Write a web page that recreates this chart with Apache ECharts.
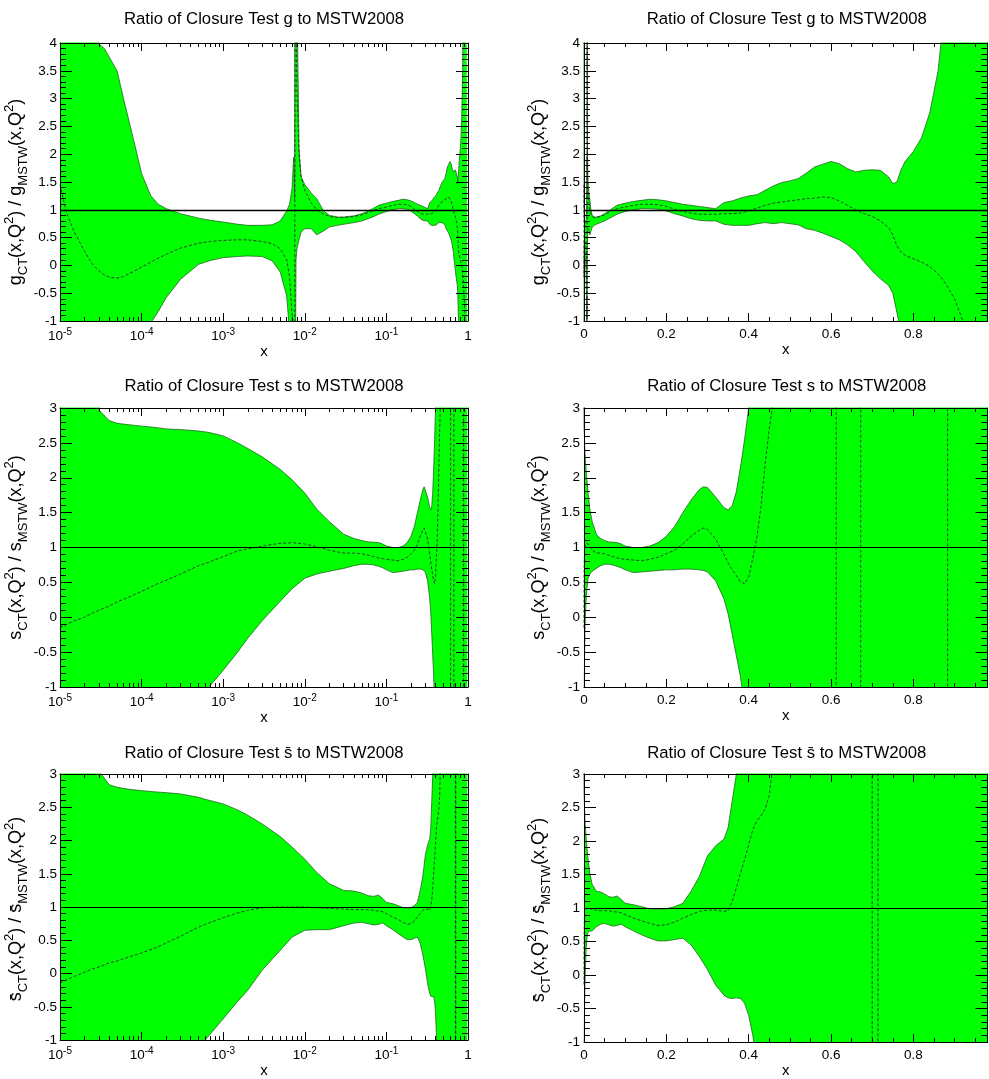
<!DOCTYPE html>
<html>
<head>
<meta charset="utf-8">
<script src="https://cdn.jsdelivr.net/npm/echarts@6/dist/echarts.min.js"></script>
<style>
html,body{margin:0;padding:0;background:#fff;}
#chart{width:989px;height:1079px;}
</style>
</head>
<body>
<div id="chart"></div>
<script>
// ---------------- data ----------------
const TITLES = [
  'Ratio of Closure Test g to MSTW2008',
  'Ratio of Closure Test s to MSTW2008',
  'Ratio of Closure Test s\u0304 to MSTW2008'
];
const Y_NAMES = [
  '{m|g}{sub|CT}{m|(x,Q}{sup|2}{m|) / g}{sub|MSTW}{m|(x,Q}{sup|2}{m|)}',
  '{m|s}{sub|CT}{m|(x,Q}{sup|2}{m|) / s}{sub|MSTW}{m|(x,Q}{sup|2}{m|)}',
  '{m|s\u0304}{sub|CT}{m|(x,Q}{sup|2}{m|) / s\u0304}{sub|MSTW}{m|(x,Q}{sup|2}{m|)}'
];
const Y_RANGES = [[-1, 4], [-1, 3], [-1, 3]];
const REF_VALUE = 1;
const LOG_RANGE = [1e-5, 1];
const LIN_RANGE = [0, 0.98];
const LIN_LABELS = [0, 0.2, 0.4, 0.6, 0.8];

// gluon
const G_X = [1e-5,1.2e-5,1.5e-5,2e-5,2.5e-5,3e-5,3.5e-5,4e-5,5e-5,6e-5,7e-5,8e-5,1e-4,1.3e-4,1.6e-4,2e-4,3e-4,5e-4,7e-4,1e-3,1.5e-3,2e-3,3e-3,4e-3,5e-3,6e-3,6.5e-3,7e-3,7.3e-3,7.5e-3,7.6e-3,7.8e-3,8e-3,8.5e-3,9e-3,0.01,0.012,0.014,0.017,0.02,0.025,0.03,0.04,0.05,0.06,0.07,0.08,0.1,
  0.12,0.14,0.16,0.18,0.2,0.22,0.24,0.26,0.28,0.30,0.32,0.34,0.36,0.38,0.40,0.42,0.44,0.46,0.48,0.50,0.52,0.54,0.56,0.58,0.60,0.62,0.64,0.66,0.68,0.70,0.72,0.74,0.75,0.76,0.77,0.78,0.80,0.82,0.84,0.86,0.87,0.88,0.90,0.92,0.94,0.96,0.98];
const G_HI = [6,6,6,6,4.6,3.98,3.9,3.75,3.5,3.0,2.6,2.25,1.65,1.25,1.1,1.02,0.93,0.85,0.81,0.78,0.74,0.72,0.72,0.73,0.8,0.98,1.1,1.4,1.95,1.2,6,6,5,2.1,1.6,1.45,1.3,1.2,0.98,0.9,0.87,0.87,0.89,0.93,0.98,1.03,1.08,1.12,
  1.15,1.17,1.19,1.18,1.16,1.13,1.10,1.08,1.06,1.04,1.02,1.13,1.16,1.21,1.25,1.27,1.35,1.43,1.49,1.52,1.56,1.66,1.77,1.82,1.87,1.83,1.74,1.68,1.71,1.72,1.71,1.59,1.47,1.5,1.72,1.87,2.05,2.3,2.75,3.5,4.2,5,6,6,6,6,6];
const G_LO = [-3.9,-3.7,-3.45,-3.15,-2.9,-2.7,-2.5,-2.4,-2.15,-1.95,-1.75,-1.6,-1.33,-1.03,-0.83,-0.58,-0.25,0.02,0.09,0.14,0.16,0.17,0.16,0.08,-0.12,-0.55,-1.2,-5,-5,-5,-3,0.1,0.3,0.46,0.6,0.66,0.66,0.55,0.62,0.69,0.72,0.74,0.77,0.8,0.84,0.88,0.92,0.97,
  1.0,1.02,1.02,1.01,0.98,0.93,0.89,0.84,0.81,0.80,0.80,0.74,0.72,0.72,0.72,0.75,0.77,0.75,0.77,0.75,0.73,0.66,0.63,0.58,0.52,0.46,0.37,0.25,0.07,-0.1,-0.24,-0.36,-0.5,-0.85,-1.2,-1.6,-2.5,-4,-4,-4,-4,-4,-4,-4,-4,-4,-4];
const G_C = [1.45,0.95,0.6,0.25,0.02,-0.1,-0.17,-0.21,-0.23,-0.2,-0.15,-0.11,-0.03,0.06,0.13,0.2,0.31,0.4,0.43,0.45,0.46,0.46,0.43,0.39,0.3,0.1,-0.2,-0.9,-2.5,-12,12,4.5,3.2,2.0,1.6,1.35,1.12,1.0,0.92,0.88,0.86,0.86,0.88,0.91,0.95,0.99,1.02,1.05,
  1.08,1.1,1.1,1.09,1.06,1.01,0.97,0.94,0.92,0.92,0.92,0.93,0.93,0.94,0.98,1.03,1.08,1.12,1.14,1.16,1.18,1.2,1.21,1.23,1.22,1.16,1.08,1.0,0.93,0.88,0.8,0.68,0.55,0.35,0.24,0.18,0.12,0.06,-0.02,-0.15,-0.24,-0.35,-0.6,-1.0,-1.5,-2.0,-2.5];

// strange
const S_X = [1e-5,1.5e-5,2e-5,2.5e-5,3e-5,4e-5,5e-5,7e-5,1e-4,1.5e-4,2e-4,3e-4,5e-4,6.7e-4,1e-3,1.5e-3,2e-3,3e-3,5e-3,7e-3,0.01,0.014,0.02,0.03,0.04,0.05,0.06,0.07,0.08,0.09,0.1,
  0.12,0.14,0.16,0.18,0.2,0.22,0.24,0.26,0.28,0.29,0.30,0.32,0.34,0.35,0.36,0.37,0.38,0.39,0.40,0.41,0.42,0.43,0.44,0.45,0.46,0.5,0.55,0.6,0.612,0.613,0.64,0.671,0.673,0.7,0.75,0.8,0.85,0.882,0.884,0.92,0.96,0.98];
const S_HI = [5,5,5,4,2.97,2.82,2.78,2.76,2.74,2.72,2.70,2.69,2.67,2.65,2.60,2.50,2.42,2.30,2.12,1.97,1.78,1.55,1.37,1.19,1.13,1.10,1.08,1.075,1.07,1.05,1.02,
  1.0,1.0,1.02,1.07,1.16,1.3,1.5,1.68,1.83,1.87,1.86,1.72,1.57,1.54,1.6,1.8,2.15,2.55,3.0,3.5,4,5,5,5,5,5,5,5,5,5,5,5,5,5,5,5,5,5,5,5,5,5];
const S_LO = [-3.6,-3.35,-3.2,-3.05,-2.95,-2.75,-2.6,-2.4,-2.2,-1.95,-1.75,-1.5,-1.18,-1.0,-0.76,-0.5,-0.3,-0.05,0.23,0.41,0.56,0.62,0.66,0.70,0.74,0.76,0.76,0.75,0.73,0.71,0.68,
  0.64,0.65,0.66,0.67,0.68,0.68,0.69,0.69,0.68,0.67,0.65,0.52,0.26,0.05,-0.25,-0.55,-0.85,-1.3,-2,-3,-3,-3,-3,-3,-3,-3,-3,-3,-3,-3,-3,-3,-3,-3,-3,-3,-3,-3,-3,-3,-3,-3];
const S_C = [-0.15,-0.05,0.0,0.06,0.10,0.16,0.22,0.29,0.37,0.47,0.53,0.62,0.74,0.79,0.87,0.95,0.98,1.02,1.06,1.07,1.05,1.01,0.96,0.92,0.92,0.91,0.89,0.87,0.85,0.84,0.83,
  0.82,0.81,0.83,0.86,0.91,0.96,1.05,1.16,1.25,1.28,1.26,1.12,0.9,0.78,0.68,0.6,0.51,0.48,0.58,0.85,1.15,1.6,2.2,2.7,3.1,5,7,12,40,-40,-10,-40,40,12,8,9,14,40,-40,-12,-8,-7];

// anti-strange
const SB_X = [1e-5,1.5e-5,2e-5,2.5e-5,3e-5,4e-5,5e-5,7e-5,1e-4,1.5e-4,2e-4,3e-4,5e-4,6e-4,1e-3,1.5e-3,2e-3,3e-3,5e-3,7e-3,0.01,0.014,0.02,0.03,0.04,0.05,0.06,0.07,0.08,0.09,0.1,
  0.12,0.14,0.16,0.18,0.2,0.22,0.24,0.26,0.28,0.30,0.32,0.34,0.35,0.36,0.37,0.38,0.39,0.40,0.41,0.42,0.43,0.44,0.45,0.46,0.5,0.6,0.699,0.701,0.713,0.715,0.8,0.9,0.98];
const SB_HI = [5,5,5,4,3.05,2.84,2.80,2.77,2.75,2.73,2.72,2.70,2.65,2.62,2.55,2.46,2.38,2.25,2.06,1.9,1.72,1.52,1.35,1.25,1.24,1.21,1.17,1.16,1.18,1.13,1.07,
  1.05,1.02,0.99,0.98,0.99,1.02,1.07,1.25,1.47,1.78,1.93,2.03,2.2,2.6,3.0,3.6,5,5,5,5,5,5,5,5,5,5,5,5,5,5,5,5,5];
const SB_LO = [-3.5,-3.25,-3.1,-2.95,-2.85,-2.65,-2.5,-2.3,-2.1,-1.85,-1.7,-1.45,-1.13,-1.0,-0.68,-0.42,-0.25,0.05,0.35,0.55,0.65,0.66,0.66,0.72,0.76,0.77,0.75,0.73,0.74,0.76,0.72,
  0.66,0.6,0.55,0.51,0.51,0.53,0.55,0.45,0.28,0.08,-0.15,-0.3,-0.34,-0.35,-0.34,-0.35,-0.42,-0.6,-0.9,-1.3,-3,-3,-3,-3,-3,-3,-3,-3,-3,-3,-3,-3,-3];
const SB_C = [-0.14,-0.04,0.02,0.07,0.1,0.16,0.19,0.25,0.31,0.39,0.46,0.56,0.70,0.74,0.84,0.91,0.95,0.99,1.0,1.0,1.0,0.99,0.98,0.97,0.96,0.96,0.96,0.95,0.94,0.93,0.9,
  0.85,0.81,0.77,0.74,0.75,0.79,0.85,0.9,0.95,0.97,0.97,0.95,0.96,1.1,1.3,1.52,1.72,1.95,2.17,2.3,2.38,2.48,2.68,3.2,5,10,40,-40,-40,40,12,8,7];

// ---------------- layout / style ----------------
const FONT = '"Liberation Sans", Arial, Helvetica, sans-serif';
const GREEN = '#00ff00';
const EDGE = '#1d6a1d';
const ROW_TOP = [43, 408, 774];
const ROW_H = [278, 279, 279];
const COL_LEFT = [60, 584];
const COL_W = [408, 403.5];
const TITLE_CY = [19.5, 386, 753.5];
const YNAME_SHIFT = [20, 0, 4];   // extra end-padding that moves the axis title downwards
const YNAME_GAP = [23, 22];

const LOG_MINOR = [];
for (let e = -5; e < 0; e++) for (let k = 2; k <= 9; k++) LOG_MINOR.push(+(k * Math.pow(10, e)).toPrecision(3));
const LIN_MINOR = [];
for (let i = 1; i < 20; i++) if (i % 4 !== 0) LIN_MINOR.push(+(i * 0.05).toFixed(2));

const PANELS = [
  {x: G_X, hi: G_HI, lo: G_LO, c: G_C},
  {x: S_X, hi: S_HI, lo: S_LO, c: S_C},
  {x: SB_X, hi: SB_HI, lo: SB_LO, c: SB_C}
];

const zip = (xs, ys) => xs.map((v, i) => [v, ys[i]]);

const grid = [], xAxis = [], yAxis = [], series = [], title = [];

PANELS.forEach((p, ri) => {
  [0, 1].forEach(ci => {
    const gi = grid.length;
    const isLog = ci === 0;
    grid.push({left: COL_LEFT[ci], top: ROW_TOP[ri], width: COL_W[ci], height: ROW_H[ri]});
    title.push({
      text: TITLES[ri], left: COL_LEFT[ci] + COL_W[ci] / 2 + (ci ? 1 : 0), top: TITLE_CY[ri] - 10,
      textAlign: 'center', padding: 0,
      textStyle: {fontFamily: FONT, fontSize: 16.7, fontWeight: 'normal', color: '#000', lineHeight: 20}
    });

    const base = {
      gridIndex: gi, type: isLog ? 'log' : 'value',
      min: isLog ? LOG_RANGE[0] : LIN_RANGE[0], max: isLog ? LOG_RANGE[1] : LIN_RANGE[1],
      z: 10, silent: true, splitLine: {show: false}, minorSplitLine: {show: false}
    };
    if (isLog) base.logBase = 10; else base.interval = 0.2;
    const labelCfg = isLog ? {
      show: true, margin: 6, color: '#000', fontFamily: FONT, fontSize: 13.5,
      formatter: v => { const e = Math.round(Math.log10(v)); return e === 0 ? '{b|1}' : '{b|10}{e|' + e + '}'; },
      rich: {
        b: {fontFamily: FONT, fontSize: 13.5, color: '#000', lineHeight: 18},
        e: {fontFamily: FONT, fontSize: 10, color: '#000', lineHeight: 9, verticalAlign: 'top'}
      }
    } : {
      show: true, margin: 6, color: '#000', fontFamily: FONT, fontSize: 13.5,
      customValues: LIN_LABELS
    };
    const minorVals = isLog ? LOG_MINOR : LIN_MINOR;
    const mainX = xAxis.length;
    xAxis.push(Object.assign({}, base, {
      position: 'bottom',
      axisLine: {show: true, onZero: false, lineStyle: {color: '#000', width: 1}},
      axisTick: {show: true, inside: true, length: 8, lineStyle: {color: '#000', width: 1}},
      axisLabel: labelCfg,
      name: 'x', nameLocation: 'middle', nameGap: 14,
      nameTextStyle: {fontFamily: FONT, fontSize: 15, color: '#000', verticalAlign: 'top'}
    }));
    xAxis.push(Object.assign({}, base, {
      position: 'bottom',
      axisLine: {show: false, onZero: false},
      axisTick: {show: true, inside: true, length: 4, customValues: minorVals, lineStyle: {color: '#000', width: 1}},
      axisLabel: {show: false}
    }));
    xAxis.push(Object.assign({}, base, {
      position: 'top',
      axisLine: {show: true, onZero: false, lineStyle: {color: '#000', width: 1}},
      axisTick: {show: true, inside: true, length: 8, lineStyle: {color: '#000', width: 1}},
      axisLabel: {show: false}
    }));
    xAxis.push(Object.assign({}, base, {
      position: 'top',
      axisLine: {show: false, onZero: false},
      axisTick: {show: true, inside: true, length: 4, customValues: minorVals, lineStyle: {color: '#000', width: 1}},
      axisLabel: {show: false}
    }));

    const yr = Y_RANGES[ri];
    const ybase = {
      gridIndex: gi, type: 'value', min: yr[0], max: yr[1], interval: 0.5, z: 10, silent: true,
      splitLine: {show: false}, minorSplitLine: {show: false},
      axisLine: {show: true, onZero: false, lineStyle: {color: '#000', width: 1}},
      axisTick: {show: true, inside: true, length: 12, lineStyle: {color: '#000', width: 1}},
      minorTick: {show: true, splitNumber: 5, length: 6, lineStyle: {color: '#000', width: 1}}
    };
    const mainY = yAxis.length;
    yAxis.push(Object.assign({}, ybase, {
      position: 'left',
      axisLabel: {show: true, margin: ci ? 4 : 3, color: '#000', fontFamily: FONT, fontSize: 13.5},
      name: Y_NAMES[ri], nameLocation: 'middle', nameRotate: 90, nameGap: YNAME_GAP[ci],
      nameTextStyle: {
        fontFamily: FONT, fontSize: 18, color: '#000',
        padding: [0, YNAME_SHIFT[ri], 0, 0],
        rich: {
          m: {fontFamily: FONT, fontSize: 18, color: '#000', lineHeight: 27},
          sub: {fontFamily: FONT, fontSize: 13, color: '#000', lineHeight: 13, verticalAlign: 'bottom'},
          sup: {fontFamily: FONT, fontSize: 13, color: '#000', lineHeight: 13, verticalAlign: 'top'}
        }
      }
    }));
    yAxis.push(Object.assign({}, ybase, {position: 'right', axisLabel: {show: false}}));

    const common = {type: 'line', xAxisIndex: mainX, yAxisIndex: mainY, symbol: 'none', showSymbol: false,
      silent: true, clip: true, animation: false, smooth: false};
    series.push(Object.assign({}, common, {
      name: 'upper', data: zip(p.x, p.hi), z: 2,
      lineStyle: {color: EDGE, width: 0.8},
      areaStyle: {color: GREEN, opacity: 1, origin: 'start'}
    }));
    series.push(Object.assign({}, common, {
      name: 'lower', data: zip(p.x, p.lo), z: 3,
      lineStyle: {color: EDGE, width: 0.8},
      areaStyle: {color: '#ffffff', opacity: 1, origin: 'start'}
    }));
    series.push(Object.assign({}, common, {
      name: 'central', data: zip(p.x, p.c), z: 4,
      lineStyle: {color: '#2a2a2a', width: 0.9, type: [3, 2]},
      markLine: {
        silent: true, symbol: ['none', 'none'], animation: false,
        label: {show: false},
        lineStyle: {color: '#000', width: ri === 0 ? 1.3 : 1, type: 'solid'},
        data: [{yAxis: REF_VALUE}]
      }
    }));
  });
});

const chart = echarts.init(document.getElementById('chart'), null, {renderer: 'canvas'});
chart.setOption({
  backgroundColor: '#ffffff',
  animation: false,
  textStyle: {fontFamily: FONT},
  title, grid, xAxis, yAxis, series
});
</script>
</body>
</html>
